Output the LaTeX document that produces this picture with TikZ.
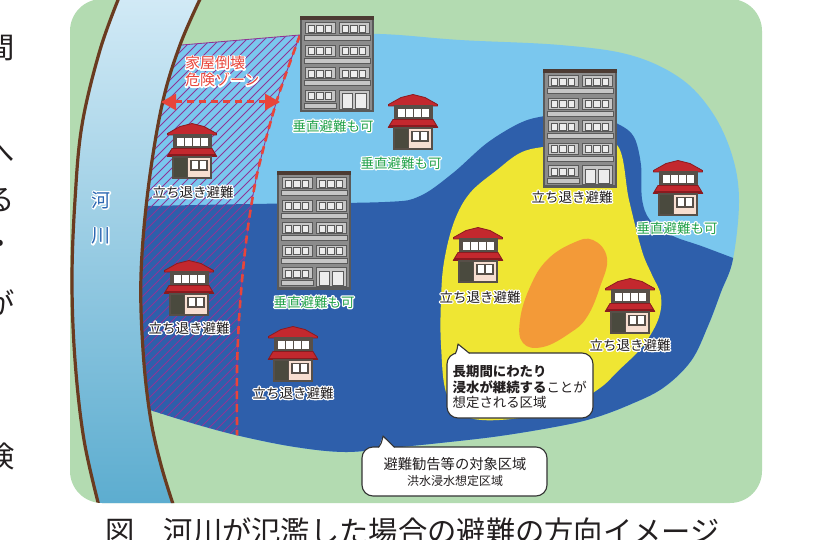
\documentclass[tikz,border=0pt]{standalone}
\usepackage{fontspec}
\setmainfont{Noto Sans CJK JP}
\usetikzlibrary{arrows.meta}

\definecolor{ground}{HTML}{B3DBB1}
\definecolor{rivertop}{HTML}{D2EAF6}
\definecolor{riverbottom}{HTML}{5BACCF}
\definecolor{bank}{HTML}{6A3B20}
\definecolor{shallow}{HTML}{7AC7EE}
\definecolor{deep}{HTML}{2E5FAB}
\definecolor{longterm}{HTML}{EFE633}
\definecolor{core}{HTML}{F39A38}
\definecolor{hatchpurple}{HTML}{8E3596}
\definecolor{zonered}{HTML}{E8453A}
\definecolor{inkblack}{HTML}{231F20}
\definecolor{inkgreen}{HTML}{22A24A}
\definecolor{riverink}{HTML}{2C68B3}
\definecolor{bldgbase}{HTML}{8C8C8C}
\definecolor{bldgedge}{HTML}{5A5A5A}
\definecolor{bldgtop}{HTML}{4C3B33}
\definecolor{bldgpanel}{HTML}{C6C6C6}
\definecolor{bldgwin}{HTML}{EDEDED}
\definecolor{roofred}{HTML}{C3282E}
\definecolor{roofdark}{HTML}{8A1A1F}
\definecolor{houseedge}{HTML}{574F48}
\definecolor{housebeige}{HTML}{F7DED0}
\definecolor{housedoor}{HTML}{4A4A3E}

% white outline behind a text: the glyphs are first stroked in white, then filled in the ink colour
\newcommand\halo[2]{\leavevmode
  \rlap{\special{pdf:literal direct 1 Tr 2.6 w 1 j 1 J 1 1 1 RG}#2\special{pdf:literal direct 0 Tr 0.4 w}}%
  {\color{#1}#2}}

\tikzset{
  lab/.style={inner sep=0pt, font=\fontsize{13.5}{15}\selectfont},
  bank/.style={draw=bank, line width=3.2pt},
  hatchline/.style={draw=hatchpurple, line width=0.85pt},
  zonedash/.style={draw=zonered, line width=2.6pt, dash pattern=on 8pt off 5pt},
  reach/.style={draw=zonered, line width=3pt, dash pattern=on 7pt off 5pt,
    {Triangle[length=15pt,width=16pt]}-{Triangle[length=15pt,width=16pt]}},
  bubble/.style={draw=black!80, line width=1.1pt, fill=white, rounded corners=11pt, inner sep=0pt},
  bubbleedge/.style={draw=black!80, line width=1.1pt, line join=round},
  pics/apartment/.style={code={
    \pgfmathsetmacro\bh{4+#1*22.5}
    \filldraw[fill=bldgbase, draw=bldgedge, line width=2.4pt] (0,0) rectangle (72,\bh);
    \fill[bldgtop] (-1.2,-1.2) rectangle (73.2,3.5);
    \foreach \k in {1,...,#1}{
      \pgfmathsetmacro\ft{4+(\k-1)*22.5}
      \filldraw[fill=bldgpanel, draw=bldgedge, line width=1pt] (4,\ft+2) rectangle (34,\ft+13);
      \foreach \wx in {7,15.5,24}
        \filldraw[fill=bldgwin, draw=bldgedge, line width=.8pt] (\wx,\ft+4) rectangle ++(6.5,7);
      \ifnum\k=#1\relax
        \filldraw[fill=bldgpanel, draw=bldgedge, line width=1pt] (3,\ft+15) rectangle (35,\ft+20);
        \filldraw[fill=bldgpanel, draw=bldgedge, line width=1pt] (38,\ft+2) rectangle (68,\bh-1.5);
        \filldraw[fill=bldgwin, draw=bldgedge, line width=.8pt] (41,\ft+5) rectangle (51.5,\bh-3);
        \filldraw[fill=bldgwin, draw=bldgedge, line width=.8pt] (54,\ft+5) rectangle (65,\bh-3);
      \else
        \filldraw[fill=bldgpanel, draw=bldgedge, line width=1pt] (38,\ft+2) rectangle (68,\ft+13);
        \foreach \wx in {41,49.5,58}
          \filldraw[fill=bldgwin, draw=bldgedge, line width=.8pt] (\wx,\ft+4) rectangle ++(6.5,7);
        \filldraw[fill=bldgpanel, draw=bldgedge, line width=1pt] (3,\ft+15) rectangle (69,\ft+20);
      \fi
    }
  }},
  pics/house/.style={code={
    \filldraw[fill=roofred, draw=roofdark, line width=.8pt, line join=round]
      (0.5,10.5) -- (13,3.5) -- (25,0.5) -- (37,3.5) -- (49.5,10.5) -- (49.5,12) -- (0.5,12) -- cycle;
    \filldraw[fill=houseedge, draw=houseedge, line width=1pt] (6,12) rectangle (44,26);
    \foreach \wx in {9.5,17.5,25.5,33.5} \fill[white] (\wx,15) rectangle ++(7,8);
    \filldraw[fill=roofred, draw=roofdark, line width=.8pt, line join=round]
      (5,25.5) -- (45,25.5) -- (49.8,33.5) -- (0.2,33.5) -- cycle;
    \fill[roofdark] (0.6,31.5) rectangle (49.4,33.8);
    \filldraw[fill=housebeige, draw=houseedge, line width=2.2pt] (6,34) rectangle (44,55);
    \fill[housedoor] (7.1,35.1) rectangle (20,53.9);
    \draw[houseedge, line width=1.6pt] (20.5,34) -- (20.5,55);
    \filldraw[fill=white, draw=houseedge, line width=1.6pt] (24,37.5) rectangle (40,47);
    \draw[houseedge, line width=1.2pt] (32,37.5) -- (32,47);
  }}
}

\begin{document}
\begin{tikzpicture}[x=1pt, y=-1pt]
\useasboundingbox (0,0) rectangle (828,540);
\fill[white] (0,0) rectangle (828,540);

% ground
\fill[ground, rounded corners=32pt] (70,-1) rectangle (762,503);

\begin{scope}
  \clip[rounded corners=32pt] (70,-1) rectangle (762,503);

  % flooded area
  \begin{scope}
    \clip (110,48) -- (183,45) -- (300,35) -- plot[smooth, tension=.6] coordinates {
      (300,35) (380,34) (460,40) (560,45) (630,55) (680,78) (712,112) (732,155)
      (739,200) (733,259) (721,292) (708,326) (691,361) (663,388) (629,405)
      (594,418) (560,426) (500,436) (440,443) (390,448) (345,452) (295,447)
      (240,436) (195,424) (150,410)} -- (110,410) -- cycle;
    \fill[shallow] (0,0) rectangle (828,540);
    \fill[deep] plot[smooth, tension=.55] coordinates {
      (100,207) (250,204) (385,202) (420,196) (453,173) (487,143) (520,123)
      (545,116) (585,112) (618,124) (634,137) (641,165) (642,199) (650,220)
      (673,236) (704,247) (770,272)} -- (790,620) -- (100,620) -- cycle;
    \fill[longterm] plot[smooth cycle, tension=.6] coordinates {
      (441,300) (444,262) (454,222) (470,193) (497,170) (520,153) (543,147)
      (580,144) (617,145) (629,200) (642,251) (652,275) (661,296) (658,320)
      (642,347) (618,371) (600,388) (570,405) (520,418) (470,418) (447,395) (441,345)};
    \fill[core] plot[smooth cycle, tension=.7] coordinates {
      (573,243) (593,240) (607,258) (600,287) (587,317) (570,333) (543,347)
      (523,343) (520,320) (530,287) (547,260)};
    % house-collapse zone hatching
    \begin{scope}
      \clip (110,45) -- (183,45) -- (300,35) -- plot[smooth, tension=.5] coordinates {
        (300,35) (277,100) (258,170) (249,220) (243,270) (239,320) (237,370) (237,437) (237,470)}
        -- (110,470) -- cycle;
      \foreach \c in {160,169,...,790} \draw[hatchline] (\c,0) -- (\c-480,480);
    \end{scope}
    \draw[hatchline] plot[smooth, tension=.5] coordinates {
      (300,35) (277,100) (258,170) (249,220) (243,270) (239,320) (237,370) (237,437) (237,470)};
    \draw[zonedash] plot[smooth, tension=.5] coordinates {
      (300,35) (277,100) (258,170) (249,220) (243,270) (239,320) (237,370) (237,437) (237,470)};
  \end{scope}
  \draw[hatchline] (170,46) -- (300,35);

  % river
  \shade[top color=rivertop, bottom color=riverbottom]
    plot[smooth, tension=.6] coordinates {(120,-5) (100,50) (82,125) (75,200) (72,280) (75,360) (84,440) (100,510)}
    -- plot[smooth, tension=.6] coordinates {(175,510) (161,465) (150,415) (143,350) (141,275) (148,190) (162,105) (180,45) (202,-5)}
    -- cycle;
  \draw[bank] plot[smooth, tension=.6] coordinates {(120,-5) (100,50) (82,125) (75,200) (72,280) (75,360) (84,440) (100,510)};
  \draw[bank] plot[smooth, tension=.6] coordinates {(175,510) (161,465) (150,415) (143,350) (141,275) (148,190) (162,105) (180,45) (202,-5)};
\end{scope}

\node[inner sep=0pt, font=\fontsize{19}{19}\selectfont] (riverA) at (101,200) {\halo{riverink}{河}};
\node[inner sep=0pt, font=\fontsize{19}{19}\selectfont] (riverB) at (101,236) {\halo{riverink}{川}};

% collapse zone label and reach
\node[anchor=west, inner sep=0pt, font=\fontsize{15}{15}\selectfont] (zoneA) at (185,63) {\halo{zonered}{家屋倒壊}};
\node[anchor=west, inner sep=0pt, font=\fontsize{15}{15}\selectfont] (zoneB) at (185,80) {\halo{zonered}{危険ゾーン}};
\coordinate (zoneL) at (161,102);
\coordinate (zoneR) at (280,102);
\draw[reach] (zoneL) -- (zoneR);

% apartment blocks
\pic (bldA) at (301,17) {apartment=4};
\pic (bldB) at (278,172) {apartment=5};
\pic (bldC) at (544,70) {apartment=5};

% houses
\pic (hseA) at (167,123) {house};
\pic (hseB) at (388,94) {house};
\pic (hseC) at (653,160) {house};
\pic (hseD) at (164,260) {house};
\pic (hseE) at (268,326) {house};
\pic (hseF) at (453,227) {house};
\pic (hseG) at (605,278) {house};

% evacuation labels
\node[lab] (labA) at (193,192) {\halo{inkblack}{立ち退き避難}};
\node[lab] (labB) at (401,163) {\halo{inkgreen}{垂直避難も可}};
\node[lab] (labC) at (333,126) {\halo{inkgreen}{垂直避難も可}};
\node[lab] (labD) at (314,302) {\halo{inkgreen}{垂直避難も可}};
\node[lab] (labE) at (572,197) {\halo{inkblack}{立ち退き避難}};
\node[lab] (labF) at (677,228) {\halo{inkgreen}{垂直避難も可}};
\node[lab] (labG) at (189,328) {\halo{inkblack}{立ち退き避難}};
\node[lab] (labH) at (293,393) {\halo{inkblack}{立ち退き避難}};
\node[lab] (labI) at (480,297) {\halo{inkblack}{立ち退き避難}};
\node[lab] (labJ) at (630,345) {\halo{inkblack}{立ち退き避難}};

% callout: long-lasting inundation
\node[bubble, minimum width=146pt, minimum height=65pt] (noteA) at (520,385.5) {};
\fill[white] (456,356) -- (456,353) -- (458,344) -- (469,353) -- (469,356) -- cycle;
\draw[bubbleedge] (455.5,353.4) .. controls (457,350) .. (458,344) -- (469.5,353.4);
\node[anchor=west, align=left, inner sep=0pt, text=inkblack, font=\fontsize{13.4}{15.5}\selectfont]
  (noteAtext) at (452.5,387) {\textbf{長期間にわたり}\\\textbf{浸水が継続する}ことが\\想定される区域};

% callout: evacuation advisory area
\node[bubble, minimum width=185pt, minimum height=49pt] (noteB) at (454.5,471.5) {};
\fill[white] (379,450) -- (379,447) -- (383,436) -- (394,447) -- (394,450) -- cycle;
\draw[bubbleedge] (378.5,447.4) .. controls (381.5,443) .. (383,436) -- (394.5,447.4);
\node[inner sep=0pt, text=inkblack, font=\fontsize{14.3}{15}\selectfont] (noteBtextA) at (455,464) {避難勧告等の対象区域};
\node[inner sep=0pt, text=inkblack, font=\fontsize{12}{13}\selectfont] (noteBtextB) at (455,481) {洪水浸水想定区域};

% caption
\node[anchor=west, inner sep=0pt, text=inkblack, font=\fontsize{29.3}{30}\selectfont]
  (caption) at (105,531) {図　河川が氾濫した場合の避難の方向イメージ};

% line ends of the neighbouring text column
\begin{scope}[every node/.style={inner sep=0pt, text=inkblack, font=\fontsize{29.3}{30}\selectfont}]
  \node (colA) at (0,48) {間};
  \node (colB) at (0,153) {へ};
  \node (colC) at (0,200) {る};
  \node (colD) at (0,247) {・};
  \node (colE) at (0,303) {が};
  \node (colF) at (0,456) {険};
\end{scope}
\end{tikzpicture}
\end{document}
